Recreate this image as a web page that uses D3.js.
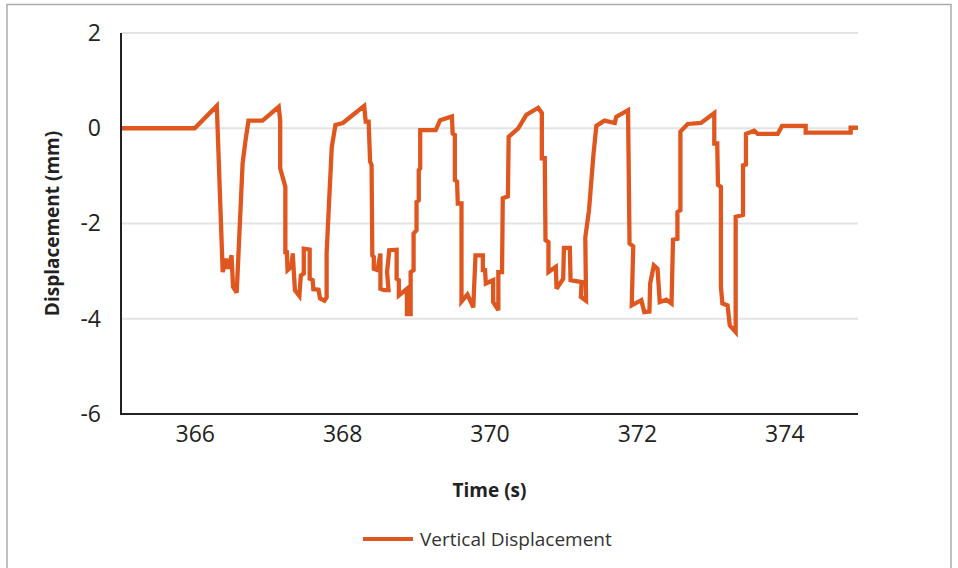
<!DOCTYPE html>
<html>
<head>
<meta charset="utf-8">
<script src="https://cdn.jsdelivr.net/npm/d3@7"></script>
<style>
  body { margin: 0; background: #fff; }
  svg { display: block; font-family: 'Open Sans', sans-serif; }
  .eje text { fill: #222; font-size: 23px; font-family: 'Open Sans', sans-serif; }
  .grid line { stroke: #e3e3e3; stroke-width: 2px; }
</style>
</head>
<body>
<div id="graf"></div>
<script>
// I. Datos
tiempo = [365.00, 366.00, 366.30, 366.38, 366.42, 366.45, 366.50, 366.52, 366.57, 366.65,
          366.69, 366.73, 366.92, 367.14, 367.16, 367.16, 367.23, 367.23, 367.25, 367.26,
          367.31, 367.33, 367.36, 367.42, 367.44, 367.48, 367.48, 367.56, 367.56, 367.60,
          367.61, 367.68, 367.70, 367.76, 367.79, 367.79, 367.82, 367.86, 367.91, 368.01,
          368.09, 368.30, 368.32, 368.36, 368.38, 368.40, 368.41, 368.43, 368.43, 368.48,
          368.52, 368.52, 368.57, 368.63, 368.61, 368.64, 368.74, 368.74, 368.77, 368.77,
          368.88, 368.88, 368.93, 368.93, 368.97, 368.97, 369.01, 369.01, 369.04, 369.04,
          369.06, 369.06, 369.27, 369.33, 369.49, 369.50, 369.53, 369.53, 369.56, 369.57,
          369.62, 369.62, 369.70, 369.78, 369.81, 369.91, 369.91, 369.94, 369.95, 370.05,
          370.05, 370.12, 370.12, 370.17, 370.18, 370.25, 370.26, 370.39, 370.50, 370.66,
          370.71, 370.71, 370.75, 370.76, 370.80, 370.80, 370.90, 370.91, 371.00, 371.01,
          371.09, 371.10, 371.25, 371.24, 371.31, 371.30, 371.35, 371.41, 371.45, 371.56,
          371.70, 371.72, 371.88, 371.90, 371.95, 371.93, 372.06, 372.10, 372.17, 372.18,
          372.23, 372.28, 372.31, 372.40, 372.47, 372.49, 372.55, 372.55, 372.59, 372.59,
          372.69, 372.87, 373.05, 373.05, 373.09, 373.10, 373.14, 373.14, 373.16, 373.23,
          373.26, 373.34, 373.34, 373.44, 373.44, 373.48, 373.48, 373.59, 373.64, 373.91,
          373.97, 374.29, 374.29, 374.90, 374.90, 375.00]
desplazamiento = [0, 0, 0.47, -3.02, -2.74, -2.95, -2.67, -3.33, -3.45, -0.74,
          -0.25, 0.16, 0.16, 0.45, 0.17, -0.84, -1.23, -2.60, -2.60, -2.98,
          -2.91, -2.63, -3.40, -3.52, -3.09, -3.05, -2.53, -2.55, -3.16, -3.19,
          -3.38, -3.39, -3.57, -3.62, -3.55, -2.63, -1.65, -0.39, 0.07, 0.11,
          0.21, 0.47, 0.14, 0.14, -0.70, -0.77, -2.67, -2.70, -2.95, -2.98,
          -2.63, -3.37, -3.40, -3.40, -3.02, -2.56, -2.55, -3.16, -3.19, -3.51,
          -3.37, -3.90, -3.90, -3.02, -2.98, -2.21, -2.14, -1.55, -1.51, -0.88,
          -0.84, -0.04, -0.04, 0.17, 0.25, -0.11, -0.14, -1.09, -1.12, -1.58,
          -1.58, -3.64, -3.49, -3.76, -2.67, -2.67, -2.98, -2.98, -3.26, -3.19,
          -3.65, -3.82, -3.02, -3.02, -1.47, -1.43, -0.18, 0, 0.28, 0.43,
          0.32, -0.63, -0.63, -2.35, -2.39, -3.02, -2.91, -3.37, -3.16, -2.51,
          -2.51, -3.19, -3.23, -3.54, -3.62, -2.29, -1.72, -0.56, 0.05, 0.16,
          0.11, 0.24, 0.38, -2.42, -2.48, -3.72, -3.61, -3.86, -3.85, -3.26,
          -2.88, -2.95, -3.65, -3.60, -3.68, -2.34, -2.32, -1.76, -1.72, -0.07,
          0.09, 0.11, 0.32, -0.32, -0.32, -1.19, -1.23, -3.33, -3.68, -3.72,
          -4.14, -4.28, -1.86, -1.82, -0.78, -0.76, -0.12, -0.05, -0.12, -0.12,
          0.05, 0.05, -0.09, -0.09, 0.01, 0.01]
xTicks = [366, 368, 370, 372, 374]
yTicks = [-6, -4, -2, 0, 2]
serie = 'Vertical Displacement'

// II. Configuración
ancho_total = 958
alto_total = 568
margins = { top: 33, left: 121, right: 100, bottom: 154 }
ancho = ancho_total - margins.left - margins.right
alto = alto_total - margins.top - margins.bottom
naranja = '#e0561f'

svg = d3.select('#graf').append('svg')
        .attr('width', ancho_total)
        .attr('height', alto_total)

// marco exterior
svg.append('rect')
   .attr('x', 7).attr('y', 4.5)
   .attr('width', 944).attr('height', 580)
   .attr('fill', 'none')
   .attr('stroke', '#aaa')
   .attr('stroke-width', 1.5)

g = svg.append('g')
       .attr('transform', `translate(${ margins.left }, ${ margins.top })`)

x = d3.scaleLinear().domain([365, 375]).range([0, ancho])
y = d3.scaleLinear().domain([-6, 2]).range([alto, 0])

// rejilla
g.append('g').attr('class', 'grid')
 .selectAll('line')
 .data(yTicks.filter(d => d > -6))
 .enter().append('line')
   .attr('x1', 0).attr('x2', ancho)
   .attr('y1', d => y(d)).attr('y2', d => y(d))

// ejes
yAxisCall = d3.axisLeft(y).tickValues(yTicks).tickSize(0).tickPadding(20).tickFormat(d3.format('d'))
yAxisGroup = g.append('g').attr('class', 'eje').call(yAxisCall)
xAxisCall = d3.axisBottom(x).tickValues(xTicks).tickSize(0).tickPadding(12)
xAxisGroup = g.append('g').attr('class', 'eje')
              .attr('transform', `translate(0, ${ alto })`)
              .call(xAxisCall)
g.selectAll('.eje .domain').remove()
yAxisGroup.selectAll('text').text(d => d < 0 ? '-' + Math.abs(d) : d)

// línea
datos = tiempo.map((t, i) => ({ t: t, v: desplazamiento[i] }))
linea = d3.line().x(d => x(d.t)).y(d => y(d.v))
g.append('path')
 .datum(datos)
 .attr('d', linea)
 .attr('fill', 'none')
 .attr('stroke', naranja)
 .attr('stroke-width', 4.3)
 .attr('stroke-linejoin', 'miter')
 .attr('stroke-miterlimit', 3)

// líneas de ejes
g.append('line').attr('x1', 0).attr('x2', 0).attr('y1', 0).attr('y2', alto)
 .attr('stroke', '#222').attr('stroke-width', 2)
g.append('line').attr('x1', -1).attr('x2', ancho).attr('y1', alto).attr('y2', alto)
 .attr('stroke', '#222').attr('stroke-width', 2)

// títulos
svg.append('text')
   .attr('transform', `translate(59, ${ margins.top + alto / 2 }) rotate(-90)`)
   .attr('text-anchor', 'middle')
   .style('font-size', '19px').style('font-weight', 'bold').style('fill', '#222')
   .text('Displacement (mm)')
svg.append('text')
   .attr('x', margins.left + x(370)).attr('y', 497)
   .attr('text-anchor', 'middle')
   .style('font-size', '19px').style('font-weight', 'bold').style('fill', '#222')
   .text('Time (s)')

// leyenda
svg.append('line').attr('x1', 363).attr('x2', 413).attr('y1', 539).attr('y2', 539)
   .attr('stroke', naranja).attr('stroke-width', 4)
svg.append('text').attr('x', 420).attr('y', 546)
   .style('font-size', '19px').style('fill', '#333')
   .text(serie)
</script>
</body>
</html>
